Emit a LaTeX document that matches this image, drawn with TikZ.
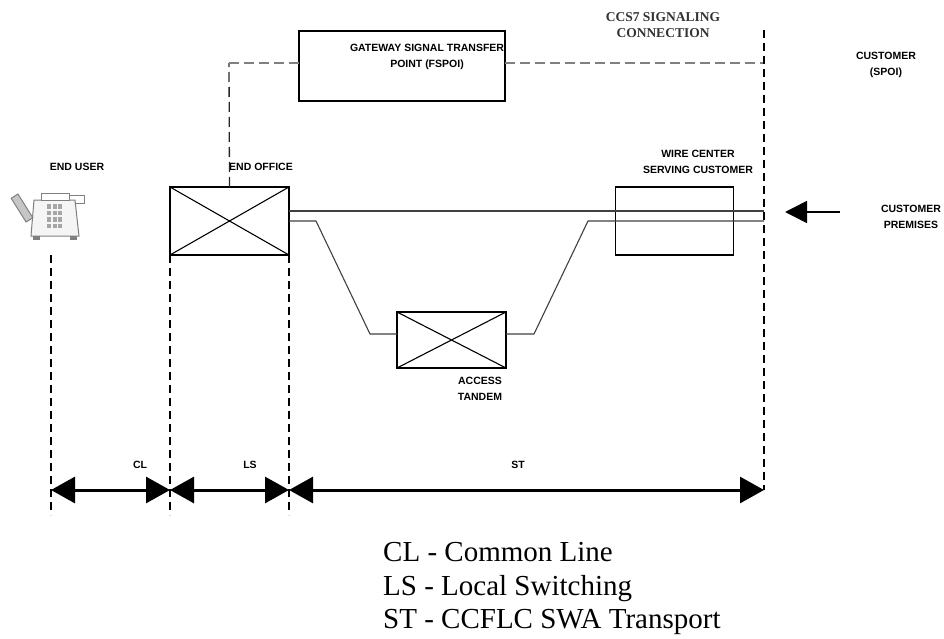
\documentclass[tikz,border=0pt]{standalone}
\usepackage{fontspec}
\setmainfont{Liberation Serif}
\newfontfamily\tagfont{Liberation Sans}
\usetikzlibrary{positioning, arrows.meta}
\tikzset{
box/.style={draw, line width=1.2pt, outer sep=0pt, inner sep=0pt}, % plain office box
tag/.style={font=\tagfont\bfseries\fontsize{10.5}{16}\selectfont, align=center, inner sep=0pt}, % small caps labels
signal/.style={dash pattern=on 10pt off 5pt, line width=1.3pt, gray}, % CCS7 link
boundary/.style={dash pattern=on 8pt off 5pt, line width=1.2pt}, % span limits
trunk/.style={line width=1.1pt, black!75}, % transport lines
span/.style={{Triangle[length=24pt,width=26pt]}-{Triangle[length=24pt,width=26pt]}, line width=3pt}, % rate element
legend/.style={font=\fontsize{29}{33}\selectfont, anchor=base west, inner sep=0pt},
}

\begin{document}
\begin{tikzpicture}[x=1pt, y=-1pt]
    \useasboundingbox (0,0) rectangle (944,639);

    % offices
    \node[box, minimum width=206pt, minimum height=70pt] (gsp) at (402,66) {};
    \node[box, minimum width=119pt, minimum height=68pt] (eo) at (229.5,221) {};
    \node[box, minimum width=118pt, minimum height=68pt] (wc) at (674.5,221) {};
    \node[box, minimum width=109pt, minimum height=56pt] (at) at (451.5,340) {};
    \draw[line width=1.1pt] (eo.north west) -- (eo.south east) (eo.south west) -- (eo.north east);
    \draw[line width=1.1pt] (at.north west) -- (at.south east) (at.south west) -- (at.north east);

    % labels
    \node[tag] (gsplabel) at (427,57) {GATEWAY SIGNAL TRANSFER\\POINT (FSPOI)};
    \node[tag] (userlabel) at (77,167) {END USER};
    \node[tag, anchor=west] (eolabel) at (229,167) {END OFFICE};
    \node[tag] (wclabel) at (698,162) {WIRE CENTER\\SERVING CUSTOMER};
    \node[tag] (atlabel) at (480,389) {ACCESS\\TANDEM};
    \node[tag] (spoi) at (886,65) {CUSTOMER\\(SPOI)};
    \node[tag] (premises) at (911,217) {CUSTOMER\\PREMISES};
    \node[font=\bfseries\fontsize{13.5}{16}\selectfont, align=center, inner sep=0pt, text=black!80] (ccs7) at (663,25) {CCS7 SIGNALING\\CONNECTION};

    % end user telephone
    \begin{scope}[gray, line width=1pt]
        \draw[fill=gray!8] (34,200) -- (31,236) -- (79,236) -- (75,200) -- cycle;
        \draw[fill=white] (41,193) rectangle (69,200);
        \draw (69,195) -- (84,195) -- (84,203) -- (75,203);
        \foreach \i in {0,1,2}
            \foreach \j in {0,...,3}
                \fill[gray!70] (47+\i*5.5,204+\j*6.5) rectangle ++(4,4.5);
        \draw[fill=gray!45, rotate around={-58:(22,208)}] (8,204) rectangle (36,212);
        \fill (33,236) rectangle (40,240);
        \fill (70,236) rectangle (77,240);
    \end{scope}

    % coordinates
    \coordinate (sigcorner) at (229,63);
    \coordinate (poitop) at (764,30);
    \coordinate (poisig) at (764,63);
    \coordinate (poiup) at (764,211);
    \coordinate (poilow) at (764,221);
    \coordinate (eoup) at (289,211);
    \coordinate (eolow) at (289,221);
    \coordinate (dropl1) at (316,221);
    \coordinate (dropl2) at (370,334);
    \coordinate (atin) at (397,334);
    \coordinate (atout) at (506,334);
    \coordinate (riser1) at (534,334);
    \coordinate (riser2) at (588,221);
    \coordinate (cpin) at (840,212);
    \coordinate (cpout) at (785,212);
    \coordinate (usertop) at (51,255);
    \coordinate (userbot) at (51,515);
    \coordinate (eoleft) at (170,515);
    \coordinate (eoright) at (289,515);
    \coordinate (spanl) at (51,490);
    \coordinate (spanm1) at (170,490);
    \coordinate (spanm2) at (289,490);
    \coordinate (spanr) at (764,490);

    % signaling
    \draw[signal, black!85] (eo.north) -- (sigcorner);
    \draw[signal] (sigcorner) -- (gsp.west |- sigcorner);
    \draw[signal] (gsp.east |- poisig) -- (poisig);

    % transport
    \draw[trunk] (eoup) -- (poiup);
    \draw[trunk] (eolow) -- (dropl1) -- (dropl2) -- (atin);
    \draw[trunk] (atout) -- (riser1) -- (riser2) -- (poilow);

    % boundaries
    \draw[boundary] (poitop) -- (spanr);
    \draw[boundary] (usertop) -- (userbot);
    \draw[boundary] (eo.south west) -- (eoleft);
    \draw[boundary] (eo.south east) -- (eoright);

    \draw[-{Triangle[length=22pt,width=22pt]}, line width=1.6pt] (cpin) -- (cpout);

    % rate elements
    \draw[span] (spanl) -- (spanm1);
    \draw[span] (spanm1) -- (spanm2);
    \draw[span] (spanm2) -- (spanr);
    \node[tag] (cl) at (140,465) {CL};
    \node[tag] (ls) at (250,465) {LS};
    \node[tag] (st) at (518,465) {ST};

    % legend
    \node[legend] (clkey) at (383,561) {CL - Common Line};
    \node[legend] (lskey) at (383,595) {LS - Local Switching};
    \node[legend] (stkey) at (383,628) {ST - CCFLC SWA Transport};
\end{tikzpicture}
\end{document}
